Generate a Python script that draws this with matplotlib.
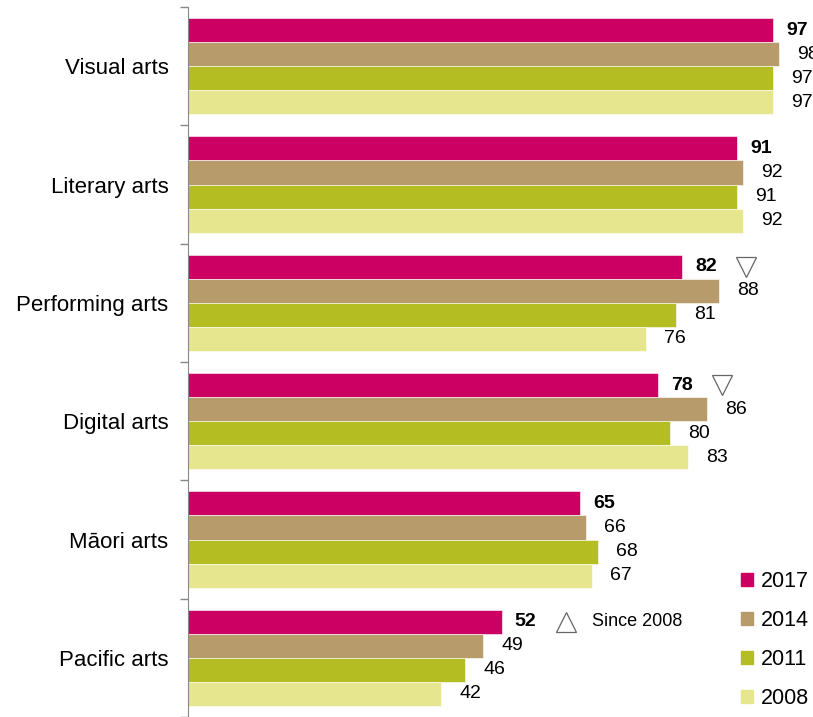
import numpy as np
import matplotlib
matplotlib.use('Agg')
import matplotlib.pyplot as plt
from matplotlib.patches import Patch

plt.rcParams.update({'font.family': ['Liberation Sans', 'DejaVu Sans'], 'font.size': 14})

cats = ['Visual arts', 'Literary arts', 'Performing arts', 'Digital arts', 'Māori arts', 'Pacific arts']
years = ['2017', '2014', '2011', '2008']
v2017 = [97, 91, 82, 78, 65, 52]
v2014 = [98, 92, 88, 86, 66, 49]
v2011 = [97, 91, 81, 80, 68, 46]
v2008 = [97, 92, 76, 83, 67, 42]
# significant change flags for 2017 (down vs 2014, up since 2008)
change = ['', '', 'down', 'down', '', 'up']

COLORS = ['#CC0062', '#B89B6B', '#B4BD22', '#E6E68E']
series = [v2017, v2014, v2011, v2008]

W, H = 813, 717
fig = plt.figure(figsize=(W / 100, H / 100), dpi=100)
ax = fig.add_axes([188 / W, 0, (W - 188) / W, 1 - 7 / H])

bh = 0.203
offs = [-1.5 * bh, -0.5 * bh, 0.5 * bh, 1.5 * bh]
y0 = np.arange(len(cats)) + 0.5
for vals, col, off, yr in zip(series, COLORS, offs, years):
    ax.barh(y0 + off, vals, height=bh, color=col, edgecolor='white', linewidth=0.4, label=yr)

# value labels (2017 in bold)
for k, (vals, off) in enumerate(zip(series, offs)):
    for i, v in enumerate(vals):
        bold = k == 0
        ax.annotate(str(v), (v, y0[i] + off), xytext=(9.5 if bold else 13, 0),
                    textcoords='offset points', va='center', ha='left',
                    fontsize=14, fontweight='bold' if bold else 'normal',
                    annotation_clip=False)

# change markers
for i, c in enumerate(change):
    if not c:
        continue
    m = 'v' if c == 'down' else '^'
    ax.plot([v2017[i] + 64 / 6.03], [y0[i] + offs[0]], marker=m, ms=15,
            mfc='white', mec='#666666', mew=0.9, clip_on=False)
    if c == 'up':
        ax.annotate('Since 2008', (v2017[i], y0[i] + offs[0]), xytext=(65, 0),
                    textcoords='offset points', va='center', ha='left', fontsize=13)

ax.set_xlim(0, (W - 188) / 6.03)
ax.set_ylim(len(cats), 0)
ax.set_yticks(y0)
ax.set_yticklabels(cats, fontsize=16)
ax.set_yticks(np.arange(len(cats) + 1), minor=True)
ax.tick_params(axis='y', which='major', length=0, pad=14)
ax.tick_params(axis='y', which='minor', length=6, color='#888888', width=1)
ax.set_xticks([])
for s in ['top', 'right', 'bottom']:
    ax.spines[s].set_visible(False)
ax.spines['left'].set_color('#888888')

handles = [Patch(color=c) for c in COLORS]
fig.legend(handles, years, loc='lower right', bbox_to_anchor=(1.0, 0.005),
           frameon=False, handlelength=0.55, handleheight=0.55, handletextpad=0.35,
           labelspacing=0.84, borderaxespad=0, borderpad=0.2, fontsize=15.5)

fig.savefig('out.png', dpi=100)
